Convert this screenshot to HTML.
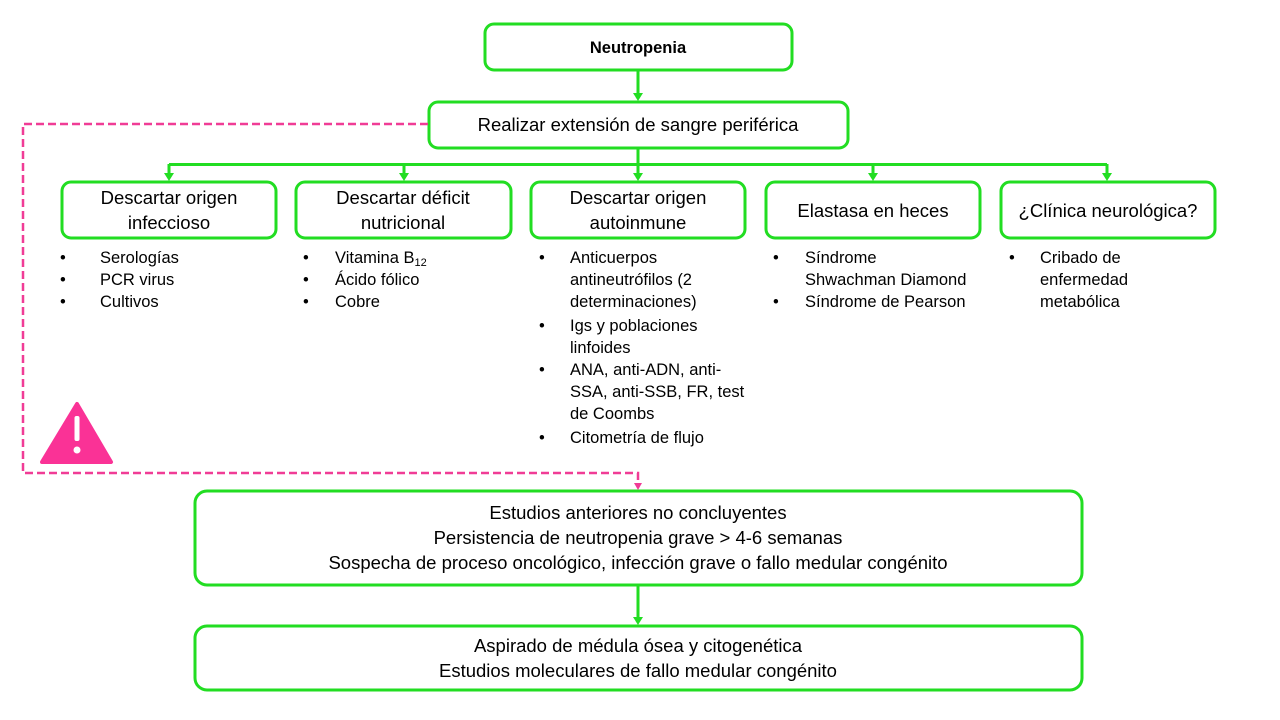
<!DOCTYPE html>
<html><head><meta charset="utf-8"><style>
html,body{margin:0;padding:0;background:#fff;}
svg{display:block;}
text{font-family:"Liberation Sans",sans-serif;fill:#000;}
.b{font-size:18.5px;text-anchor:middle;}
.l{font-size:16.5px;}
</style></head><body>
<svg width="1280" height="720" viewBox="0 0 1280 720" xmlns="http://www.w3.org/2000/svg">
<g fill="none" stroke="#22dd22" stroke-width="3">
<rect x="485" y="24" width="307" height="46" rx="9"/>
<rect x="429" y="102" width="419" height="46" rx="9"/>
<rect x="62" y="182" width="214" height="56" rx="9"/>
<rect x="296" y="182" width="215" height="56" rx="9"/>
<rect x="531" y="182" width="214" height="56" rx="9"/>
<rect x="766" y="182" width="214" height="56" rx="9"/>
<rect x="1001" y="182" width="214" height="56" rx="9"/>
<rect x="195" y="491" width="887" height="94" rx="12"/>
<rect x="195" y="626" width="887" height="64" rx="12"/>
<line x1="638" y1="70" x2="638" y2="94"/>
<line x1="638" y1="148" x2="638" y2="174"/>
<line x1="169" y1="164.5" x2="1107" y2="164.5"/>
<line x1="169" y1="164" x2="169" y2="174"/>
<line x1="404" y1="164" x2="404" y2="174"/>
<line x1="873" y1="164" x2="873" y2="174"/>
<line x1="1107" y1="164" x2="1107" y2="174"/>
<line x1="638" y1="585" x2="638" y2="617"/>
</g>
<g fill="#22dd22">
<path d="M633,93 L643,93 L638,101 z"/>
<path d="M633,173 L643,173 L638,181 z"/>
<path d="M164,173 L174,173 L169,181 z"/>
<path d="M399,173 L409,173 L404,181 z"/>
<path d="M868,173 L878,173 L873,181 z"/>
<path d="M1102,173 L1112,173 L1107,181 z"/>
<path d="M633,617 L643,617 L638,625 z"/>
</g>
<path d="M428,124 L23,124 L23,473 L638,473 L638,484" fill="none" stroke="#f03c96" stroke-width="2.5" stroke-dasharray="8,4"/>
<path d="M634,483 L642,483 L638,490 z" fill="#f03c96"/>
<path d="M77,404 L111,462 L42,462 Z" fill="#fa3296" stroke="#fa3296" stroke-width="4" stroke-linejoin="round"/>
<rect x="74.5" y="416" width="5" height="25" rx="2" fill="#fff"/>
<circle cx="77" cy="450" r="3.5" fill="#fff"/>

<text class="b" x="638" y="53" style="font-weight:bold;font-size:16.5px">Neutropenia</text>
<text class="b" x="638" y="131">Realizar extensión de sangre periférica</text>
<text class="b" x="169" y="204">Descartar origen</text>
<text class="b" x="169" y="229">infeccioso</text>
<text class="b" x="403" y="204">Descartar déficit</text>
<text class="b" x="403" y="229">nutricional</text>
<text class="b" x="638" y="204">Descartar origen</text>
<text class="b" x="638" y="229">autoinmune</text>
<text class="b" x="873" y="217">Elastasa en heces</text>
<text class="b" x="1108" y="217">¿Clínica neurológica?</text>

<text class="l" x="60" y="263">•</text><text class="l" x="100" y="263">Serologías</text>
<text class="l" x="60" y="285">•</text><text class="l" x="100" y="285">PCR virus</text>
<text class="l" x="60" y="307">•</text><text class="l" x="100" y="307">Cultivos</text>

<text class="l" x="303" y="263">•</text><text class="l" x="335" y="263">Vitamina B<tspan font-size="11" dy="3">12</tspan></text>
<text class="l" x="303" y="285">•</text><text class="l" x="335" y="285">Ácido fólico</text>
<text class="l" x="303" y="307">•</text><text class="l" x="335" y="307">Cobre</text>

<text class="l" x="539" y="263">•</text><text class="l" x="570" y="263">Anticuerpos</text>
<text class="l" x="570" y="285">antineutrófilos (2</text>
<text class="l" x="570" y="307">determinaciones)</text>
<text class="l" x="539" y="331">•</text><text class="l" x="570" y="331">Igs y poblaciones</text>
<text class="l" x="570" y="353">linfoides</text>
<text class="l" x="539" y="375">•</text><text class="l" x="570" y="375">ANA, anti-ADN, anti-</text>
<text class="l" x="570" y="397">SSA, anti-SSB, FR, test</text>
<text class="l" x="570" y="419">de Coombs</text>
<text class="l" x="539" y="443">•</text><text class="l" x="570" y="443">Citometría de flujo</text>

<text class="l" x="773" y="263">•</text><text class="l" x="805" y="263">Síndrome</text>
<text class="l" x="805" y="285">Shwachman Diamond</text>
<text class="l" x="773" y="307">•</text><text class="l" x="805" y="307">Síndrome de Pearson</text>

<text class="l" x="1009" y="263">•</text><text class="l" x="1040" y="263">Cribado de</text>
<text class="l" x="1040" y="285">enfermedad</text>
<text class="l" x="1040" y="307">metabólica</text>

<text class="b" x="638" y="519">Estudios anteriores no concluyentes</text>
<text class="b" x="638" y="544">Persistencia de neutropenia grave &gt; 4-6 semanas</text>
<text class="b" x="638" y="569">Sospecha de proceso oncológico, infección grave o fallo medular congénito</text>
<text class="b" x="638" y="652">Aspirado de médula ósea y citogenética</text>
<text class="b" x="638" y="677">Estudios moleculares de fallo medular congénito</text>
</svg>
</body></html>
